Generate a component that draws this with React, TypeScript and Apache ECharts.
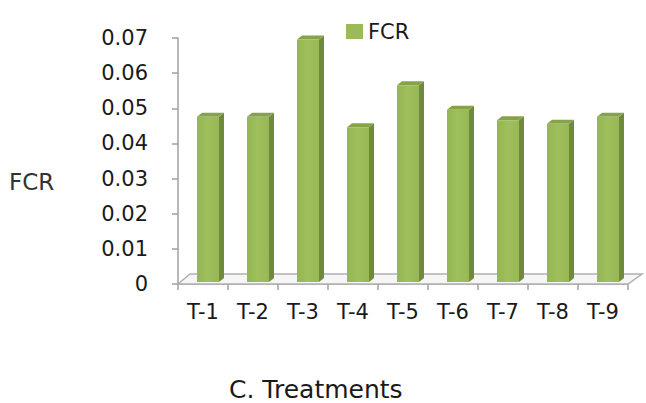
import React, { useEffect, useRef } from "react";
import * as echarts from "echarts";

const categories = ["T-1", "T-2", "T-3", "T-4", "T-5", "T-6", "T-7", "T-8", "T-9"];
const fcrValues = [0.047, 0.047, 0.069, 0.044, 0.056, 0.049, 0.046, 0.045, 0.047];
const yTicks = [0, 0.01, 0.02, 0.03, 0.04, 0.05, 0.06, 0.07];
const seriesName = "FCR";
const yTitle = "FCR";
const xTitle = "C. Treatments";

const FONT = "DejaVu Sans";

export default function App() {
  const ref = useRef<HTMLDivElement>(null);
  useEffect(() => {
    if (!ref.current) return;
    const chart = echarts.init(ref.current, null, { renderer: "svg" });
    const option: any = {
      animation: false,
      backgroundColor: "#ffffff",
      grid: { left: 178, right: 18, top: 38, bottom: 119 },
      legend: {
        data: [{ name: seriesName, icon: "rect", itemStyle: { color: "#9BBB59" } }],
        left: 341,
        top: 16,
        itemWidth: 17,
        itemHeight: 15,
        itemGap: 7,
        textStyle: { fontFamily: FONT, fontSize: 21, color: "#1a1a1a" },
      },
      xAxis: {
        type: "category",
        data: categories,
        axisLine: { show: true, lineStyle: { color: "#a0a0a0", width: 1.5 } },
        axisTick: { show: true, length: 6, lineStyle: { color: "#a0a0a0", width: 1.5 } },
        axisLabel: { fontFamily: FONT, fontSize: 21, color: "#1a1a1a", margin: 17 },
      },
      yAxis: {
        type: "value",
        min: 0,
        max: yTicks[yTicks.length - 1],
        interval: 0.01,
        splitLine: { show: false },
        axisLine: { show: true, lineStyle: { color: "#a0a0a0", width: 1.5 } },
        axisTick: { show: true, length: 6, lineStyle: { color: "#a0a0a0", width: 1.5 } },
        axisLabel: {
          fontFamily: FONT,
          fontSize: 21,
          color: "#1a1a1a",
          margin: 30,
          formatter: (v: number) => (v === 0 ? "0" : v.toFixed(2)),
        },
      },
      graphic: [
        {
          type: "text",
          left: 9,
          top: 170,
          style: { text: yTitle, fontFamily: FONT, fontSize: 23, fill: "#333" },
        },
        {
          type: "text",
          left: 229,
          top: 377,
          style: { text: xTitle, fontFamily: FONT, fontSize: 25, fill: "#1a1a1a" },
        },
      ],
      series: [
        {
          name: "floor",
          type: "custom",
          silent: true,
          data: [0],
          z: 1,
          renderItem: (params: any, api: any) => {
            const p0 = api.coord([0, 0]);
            const cs = params.coordSys;
            const x0 = cs.x;
            const x1 = cs.x + cs.width;
            const y = p0[1];
            return {
              type: "polygon",
              shape: {
                points: [
                  [x0, y],
                  [x0 + 12, y - 10],
                  [x1 + 14, y - 10],
                  [x1, y],
                ],
              },
              style: { fill: "#f6f6f6", stroke: "#b0b0b0", lineWidth: 1.5 },
            };
          },
        },
        {
          name: seriesName,
          type: "custom",
          data: fcrValues.map((v, i) => [i, v]),
          z: 3,
          encode: { x: 0, y: 1 },
          itemStyle: { color: "#9BBB59" },
          renderItem: (params: any, api: any) => {
            const idx = api.value(0);
            const val = api.value(1);
            const base = api.coord([idx, 0]);
            const top = api.coord([idx, val]);
            const c = base[0];
            const yb = base[1] - 2;
            const yt = top[1] - 2;
            const l = c - 6;
            const r = c + 16;
            const dx = 5;
            const dy = 4;
            return {
              type: "group",
              children: [
                {
                  type: "polygon",
                  shape: { points: [[r, yb], [r, yt], [r + dx, yt - dy], [r + dx, yb - dy]] },
                  style: { fill: "#6E8A3A" },
                },
                {
                  type: "polygon",
                  shape: { points: [[l, yt], [l + dx, yt - dy], [r + dx, yt - dy], [r, yt]] },
                  style: { fill: "#86A34A" },
                },
                {
                  type: "rect",
                  shape: { x: l, y: yt, width: r - l, height: yb - yt },
                  style: {
                    fill: new echarts.graphic.LinearGradient(0, 0, 1, 0, [
                      { offset: 0, color: "#94B653" },
                      { offset: 0.5, color: "#9FBF5D" },
                      { offset: 1, color: "#97B855" },
                    ]),
                  },
                },
              ],
            };
          },
        },
      ],
    };
    chart.setOption(option);
    return () => chart.dispose();
  }, []);
  return <div ref={ref} style={{ width: 646, height: 403, position: "absolute", left: 0, top: 0 }} />;
}
